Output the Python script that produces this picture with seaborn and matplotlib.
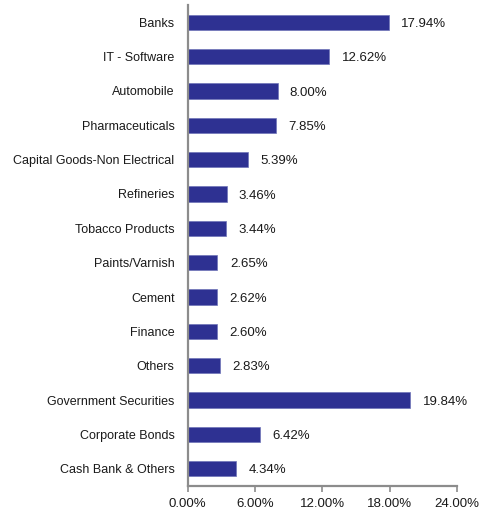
import matplotlib
matplotlib.use("Agg")
import matplotlib.pyplot as plt
import pandas as pd
import seaborn as sns

# Data
sectors = ['Banks', 'IT - Software', 'Automobile', 'Pharmaceuticals',
           'Capital Goods-Non Electrical', 'Refineries', 'Tobacco Products',
           'Paints/Varnish', 'Cement', 'Finance', 'Others',
           'Government Securities', 'Corporate Bonds', 'Cash Bank & Others']
weights = [17.94, 12.62, 8.00, 7.85, 5.39, 3.46, 3.44, 2.65, 2.62, 2.60, 2.83,
           19.84, 6.42, 4.34]
xticks = [0, 6, 12, 18, 24]

df = pd.DataFrame({'sector': sectors, 'weight': weights})

sns.set_style('white')
plt.rcParams['font.family'] = ['Liberation Sans', 'DejaVu Sans']

fig = plt.figure(figsize=(4.79, 5.12), dpi=100)
ax = fig.add_axes([0.392, 0.051, 0.562, 0.939])

sns.barplot(data=df, x='weight', y='sector', ax=ax, color='#2E3192',
            saturation=1, width=0.44, edgecolor='#6F74B8', linewidth=0.5)

# value labels to the right of each bar
for i, v in enumerate(weights):
    ax.text(v + 1.1, i + 0.05, f'{v:.2f}%', va='center', ha='left', fontsize=9.5,
            color='#1a1a1a')

ax.set_xlim(0, 24)
ax.set_ylim(13.5, -0.5)
ax.set_xticks(xticks)
ax.set_xticklabels([f'{t:.2f}%' for t in xticks])
ax.set_xlabel('')
ax.set_ylabel('')

for side in ['top', 'right']:
    ax.spines[side].set_visible(False)
for side in ['left', 'bottom']:
    ax.spines[side].set_color('#8c8c8c')
    ax.spines[side].set_linewidth(1.6)

ax.tick_params(axis='x', bottom=True, length=4, width=1.2, color='#8c8c8c',
               labelsize=9.5, pad=5, labelcolor='#1a1a1a')
ax.tick_params(axis='y', left=False, labelsize=9, pad=6, labelcolor='#1a1a1a')

fig.savefig('out.png', dpi=100)
